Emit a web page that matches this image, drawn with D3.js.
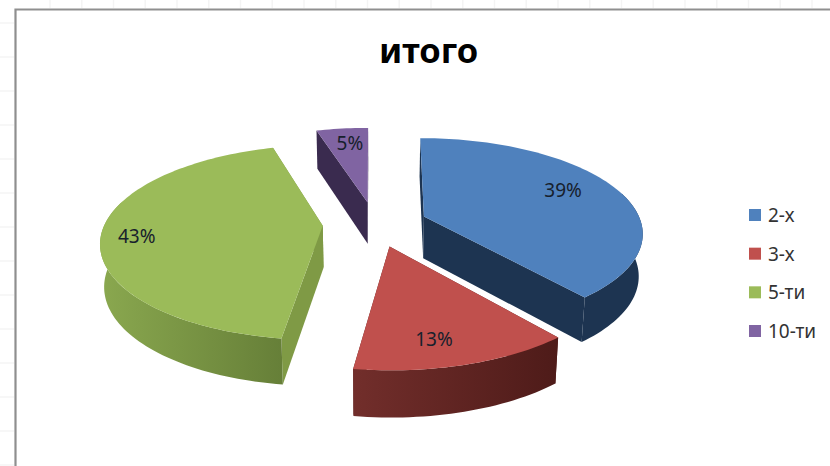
<!DOCTYPE html>
<html>
<head>
<meta charset="utf-8">
<script src="https://cdn.jsdelivr.net/npm/d3@7"></script>
<style>
  html, body { margin: 0; padding: 0; background: #fff; }
  svg { display: block; font-family: "Noto Sans", sans-serif; }
</style>
</head>
<body>
<script>
var categories = ["2-х", "3-х", "5-ти", "10-ти"];
var shares = [39.0, 13.2, 43.2, 4.6];
var chartTitle = "итого";

// colours per slice: top face, flat cut walls, curved wall gradient
var topColors = ["#4f81bd", "#c0504d", "#9bbb59", "#8064a2"];
var cutColors = ["#1d3451", "#5a2220", "#7f9a45", "#3a2b4f"];
var rimLeft = ["#1d3451", "#722e2b", "#8aa84f", "#3a2b4f"];
var rimRight = ["#1d3451", "#4e1b19", "#667f38", "#3a2b4f"];

// label placement: fraction of radius and angle nudge in degrees
var labelRadius = [0.75, 0.8, 0.84, 0.77];
var labelNudge = [-4, 4, -3, 1];

var width = 830, height = 466;
var cx = 375, cy = 224;      // pie centre before exploding
var Rx = 218, Ry = 94;       // ellipse radii
var persp = 0.17;            // nearer points get bigger
var depth = 42;              // wall height
var shrink = 0.015;          // bottom ring is slightly narrower
var explode = 0.24;

var svg = d3.select("body").append("svg")
    .attr("width", width)
    .attr("height", height);

// faint spreadsheet grid behind the chart frame
var gridX = d3.range(50, width, 31.75);
var gridY = d3.range(23, height, 34);
svg.append("g").selectAll("line").data(gridX).join("line")
    .attr("x1", d => d).attr("x2", d => d)
    .attr("y1", 0).attr("y2", 8)
    .attr("stroke", "#f4f4f4").attr("stroke-width", 1.5);
svg.append("g").selectAll("line").data(gridY).join("line")
    .attr("x1", 0).attr("x2", 14)
    .attr("y1", d => d).attr("y2", d => d)
    .attr("stroke", "#f4f4f4").attr("stroke-width", 1.5);

// frame, open at the right and bottom
svg.append("path")
    .attr("d", "M15.5," + height + "V9.5H" + width)
    .attr("fill", "#fff")
    .attr("stroke", "#8f8f8f")
    .attr("stroke-width", 2.2);

var defs = svg.append("defs");
var pie = d3.pie().sort(null).value(d => d);
var arcs = pie(shares);
var toRad = Math.PI / 180;
var line = d3.line();

function slicePoint(d, a, r, z) {
  var mid = (d.startAngle + d.endAngle) / 2;
  var ox = explode * Math.sin(mid), oy = -explode * Math.cos(mid);
  var X = r * Math.sin(a), Y = oy - r * Math.cos(a);
  var w = 1 - persp * Y;
  var s = 1 - shrink * z;
  // the explode offset is only half affected by the perspective, fits the picture better
  return [cx + Rx * (ox / Math.sqrt(w) + X / w) * s, cy + Ry * Y / w + z * depth / Math.sqrt(w)];
}

function arcAngles(a0, a1) {
  var n = Math.max(2, Math.ceil((a1 - a0) / (1.5 * toRad)));
  return d3.range(n + 1).map(i => a0 + (a1 - a0) * i / n);
}

function cutPath(d, a) {
  return line([
    slicePoint(d, a, 0, 0), slicePoint(d, a, 1, 0),
    slicePoint(d, a, 1, 1), slicePoint(d, a, 0, 1)
  ]) + "Z";
}

function rimPath(d) {
  var a0 = Math.max(d.startAngle, 75 * toRad);
  var a1 = Math.min(d.endAngle, 285 * toRad);
  if (a1 <= a0) return null;
  var as = arcAngles(a0, a1);
  var upper = as.map(a => slicePoint(d, a, 1, 0));
  var lower = as.slice().reverse().map(a => slicePoint(d, a, 1, 1));
  return line(upper.concat(lower)) + "Z";
}

function topPath(d) {
  var pts = arcAngles(d.startAngle, d.endAngle).map(a => slicePoint(d, a, 1, 0));
  return line([slicePoint(d, 0, 0, 0)].concat(pts)) + "Z";
}

arcs.forEach(function(d, i) {
  var g = defs.append("linearGradient").attr("id", "rim" + i);
  g.append("stop").attr("offset", "0%").attr("stop-color", rimLeft[i]);
  g.append("stop").attr("offset", "100%").attr("stop-color", rimRight[i]);
});

// back to front: purple, green, blue, red
var order = [3, 2, 0, 1];
var slices = svg.append("g").selectAll("g")
    .data(order.map(i => arcs[i]))
    .join("g");

slices.append("path").attr("d", d => cutPath(d, d.startAngle)).attr("fill", d => cutColors[d.index]);
slices.append("path").attr("d", d => cutPath(d, d.endAngle)).attr("fill", d => cutColors[d.index]);
slices.filter(d => rimPath(d) !== null).append("path")
    .attr("d", rimPath)
    .attr("fill", d => "url(#rim" + d.index + ")");
slices.append("path").attr("d", topPath).attr("fill", d => topColors[d.index]);

// percent labels
svg.append("g").selectAll("text")
    .data(arcs)
    .join("text")
    .attr("transform", function(d, i) {
      var mid = (d.startAngle + d.endAngle) / 2 + labelNudge[i] * toRad;
      return "translate(" + slicePoint(d, mid, labelRadius[i], 0) + ")";
    })
    .attr("text-anchor", "middle")
    .attr("dy", "0.36em")
    .attr("font-size", 19)
    .attr("fill", "#17202c")
    .text(d => Math.round(d.value) + "%");

svg.append("text")
    .attr("x", 428.5)
    .attr("y", 63)
    .attr("text-anchor", "middle")
    .attr("font-size", 34.5)
    .attr("font-weight", 700)
    .attr("fill", "#000")
    .text(chartTitle);

// legend
var legendY = d3.scalePoint().domain(categories).range([215, 331]);
var legend = svg.append("g").selectAll("g")
    .data(categories)
    .join("g")
    .attr("transform", d => "translate(749," + legendY(d) + ")");
legend.append("rect")
    .attr("y", -6)
    .attr("width", 12)
    .attr("height", 12)
    .attr("fill", (d, i) => topColors[i]);
legend.append("text")
    .attr("x", 19)
    .attr("dy", "0.36em")
    .attr("font-size", 19)
    .attr("fill", "#333")
    .text(d => d);
</script>
</body>
</html>
